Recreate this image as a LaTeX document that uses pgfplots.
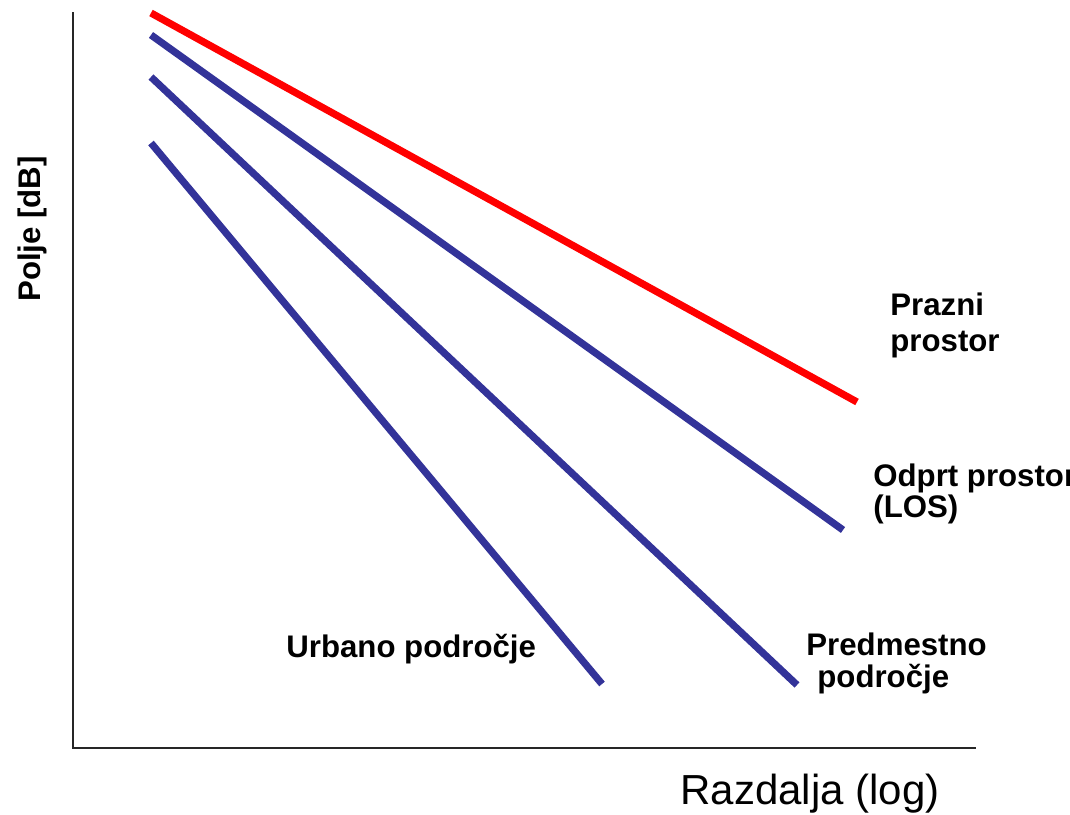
\documentclass[border=0pt]{standalone}
\usepackage{pgfplots}
\pgfplotsset{compat=1.18}
\usepackage{fontspec}
\setmainfont{Liberation Sans}
\definecolor{lblue}{HTML}{333399}
\begin{document}
\begin{tikzpicture}
\useasboundingbox (0,0) rectangle (535pt,407pt);
\clip (0,0) rectangle (535pt,407pt);
\begin{axis}[
  at={(0,0)}, anchor=south west,
  width=535pt, height=407pt, scale only axis,
  xmin=0, xmax=1070, ymin=0, ymax=814,
  axis lines=none, xtick=\empty, ytick=\empty,
  clip=false,
]
% axis frame lines
\addplot[line width=1pt, color=black!85, line cap=rect] coordinates {(73,801) (73,66) (975,66)};
% free space (red)
\addplot[line width=3.6pt, color=red] coordinates {(151,801) (857,412)};
% open space LOS
\addplot[line width=3.6pt, color=lblue] coordinates {(151,779) (843,284)};
% suburban
\addplot[line width=3.6pt, color=lblue] coordinates {(151,737) (797,129)};
% urban
\addplot[line width=3.6pt, color=lblue] coordinates {(151,671) (602,130)};

\begin{scope}[every node/.style={anchor=base west, inner sep=0pt, font=\fontsize{15.6}{18}\selectfont\bfseries}]
\node at (axis cs:890,498) {Prazni};
\node at (axis cs:890,462) {prostor};
\node at (axis cs:873,327) {Odprt prostor};
\node at (axis cs:873,296) {(LOS)};
\node at (axis cs:806,159) {Predmestno};
\node at (axis cs:817,127) {področje};
\node at (axis cs:286,157) {Urbano področje};
\end{scope}
\node[anchor=base west, inner sep=0pt, font=\fontsize{21}{25}\selectfont] at (axis cs:680,10) {Razdalja (log)};
\node[rotate=90, anchor=base, inner sep=0pt, font=\fontsize{15.6}{18}\selectfont\bfseries] at (axis cs:40,585) {Polje [dB]};
\end{axis}
\end{tikzpicture}
\end{document}
